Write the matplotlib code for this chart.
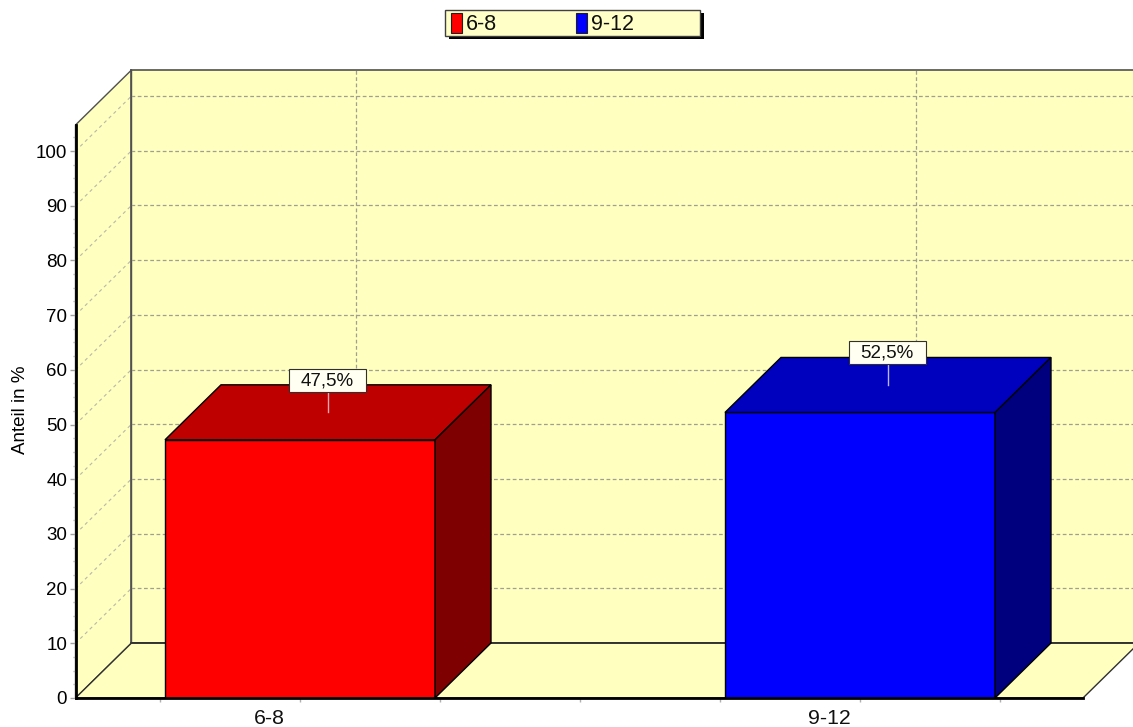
#!/usr/bin/env python3
"""Balken 3D: Anteil in % nach Klassenstufe"""

import matplotlib
matplotlib.use("Agg")
import matplotlib.pyplot as plt
from matplotlib.patches import Rectangle

# Daten
categories = ["6-8", "9-12"]
bar_heights = [47.2, 52.2]
value_labels = ["47,5%", "52,5%"]
y_ticks = list(range(0, 101, 10))
y_minor = [v * 2.5 for v in range(0, 42)]
x_ticks = [-0.25, 0, 0.25, 0.5, 0.75, 1, 1.25]
front_colors = ["#ff0000", "#0000ff"]
top_colors = ["#bf0000", "#0000bf"]
side_colors = ["#7f0000", "#00007f"]
leader_colors = ["#f0a8b0", "#b8b8f0"]

WALL = "#ffffc0"
GRID = "#a0a090"
W, H = 1133, 727
DPI = 100

plt.rcParams["font.family"] = ["Liberation Sans", "DejaVu Sans"]

fig = plt.figure(figsize=(W / DPI, H / DPI), dpi=DPI, facecolor="white")

# Vorderebene des Diagramms (Pixel -> Achsenposition)
left, right, bottom, top = 75.5, 1083, 698, 125
ax = fig.add_axes([left / W, 1 - bottom / H, (right - left) / W, (bottom - top) / H])
px_x = 560.0
px_y = 5.47
ax.set_xlim((left - 300) / px_x, (right - 300) / px_x)
ax.set_ylim(0, (bottom - top) / px_y)
ax.patch.set_visible(False)

# Tiefe des 3D-Effekts in Datenkoordinaten
dx = 56 / px_x
dy = 55 / px_y
x0, x1 = ax.get_xlim()
y_top = ax.get_ylim()[1]

# Waende und Boden
ax.fill([x0 + dx, x1 + dx, x1 + dx, x0 + dx], [dy, dy, y_top + dy, y_top + dy],
        facecolor=WALL, edgecolor="#505050", lw=1.2, clip_on=False, zorder=1)
ax.fill([x0, x0 + dx, x0 + dx, x0], [0, dy, y_top + dy, y_top],
        facecolor=WALL, edgecolor="#505050", lw=1, clip_on=False, zorder=1)
ax.fill([x0, x0 + dx, x1 + dx, x1], [0, dy, dy, 0],
        facecolor=WALL, edgecolor="#303030", lw=1, clip_on=False, zorder=1)

# Gitterlinien auf Seiten- und Rueckwand
for v in y_ticks[1:]:
    ax.plot([x0, x0 + dx], [v, v + dy], color="#b8b8a8", lw=0.8, ls=(0, (3, 3)),
            clip_on=False, zorder=2)
    ax.plot([x0 + dx, x1 + dx], [v + dy, v + dy], color=GRID, lw=0.9, ls=(0, (3, 2)),
            clip_on=False, zorder=2)
for i in range(len(categories)):
    ax.plot([i + dx, i + dx], [dy, y_top + dy], color=GRID, lw=0.9, ls=(0, (3, 2)),
            clip_on=False, zorder=2)
ax.plot([x0 + dx, x0 + dx], [dy, y_top + dy], color="#505050", lw=1.2, clip_on=False, zorder=3)
ax.plot([x0 + dx, x1 + dx], [dy, dy], color="#303030", lw=1.2, clip_on=False, zorder=3)

# Balken
bar_w = 270 / px_x
xs = list(range(len(categories)))
ax.bar(xs, bar_heights, width=bar_w, color=front_colors, edgecolor="black", lw=1, zorder=4)
for i, h in enumerate(bar_heights):
    xl, xr = i - bar_w / 2, i + bar_w / 2
    ax.fill([xl, xr, xr + dx, xl + dx], [h, h, h + dy, h + dy],
            facecolor=top_colors[i], edgecolor="black", lw=1, zorder=4)
    ax.fill([xr, xr + dx, xr + dx, xr], [0, dy, h + dy, h],
            facecolor=side_colors[i], edgecolor="black", lw=1, zorder=4)
    # Hinweislinie zum Wertelabel
    ax.plot([i + dx / 2, i + dx / 2], [h + 5.1, h + 8.8], color=leader_colors[i],
            lw=1, zorder=5)

# Achsen
for s in ["top", "right"]:
    ax.spines[s].set_visible(False)
for s in ["left", "bottom"]:
    ax.spines[s].set_linewidth(2)
    ax.spines[s].set_color("black")
    ax.spines[s].set_zorder(6)
ax.set_yticks(y_ticks)
ax.set_yticks(y_minor, minor=True)
ax.set_xticks(x_ticks)
ax.set_xticklabels([])
ax.tick_params(axis="y", which="major", length=4, width=1, color="#a0a0a0", labelsize=13.5, pad=2)
ax.tick_params(axis="y", which="minor", length=2, width=1, color="#b0b0b0")
ax.tick_params(axis="x", which="major", length=3, width=1, color="#b0b0b0")
ax.set_ylabel("Anteil in %", fontsize=13.5)
ax.yaxis.set_label_coords((29 - left) / (right - left), (698 - 410) / (bottom - top))

# Kategorienamen sitzen links von der Balkenmitte
for i, c in enumerate(categories):
    ax.annotate(c, (i, 0), xytext=(-31, -21), textcoords="offset pixels",
                ha="center", va="center", fontsize=15.3, color="#101010", annotation_clip=False)

# Legende und Wertelabels in Pixelkoordinaten
lax = fig.add_axes([0, 0, 1, 1])
lax.set_xlim(0, W)
lax.set_ylim(H, 0)
lax.axis("off")
lax.add_patch(Rectangle((449, 13), 255, 26, fc="black", ec="none", zorder=1))
lax.add_patch(Rectangle((445, 9.5), 255, 26, fc="#ffffc8", ec="#404040", lw=1, zorder=2))
for sx, col, lab in zip([451, 576], front_colors, categories):
    lax.add_patch(Rectangle((sx, 13), 11, 20, fc=col, ec="#202020", lw=0.8, zorder=3))
    lax.text(sx + 15, 24, lab, fontsize=15.5, va="center", ha="left", color="#101010", zorder=3)

for i, h in enumerate(bar_heights):
    cx, cy = ax.transData.transform((i + dx / 2, h + 11))
    cy = H - cy
    lax.add_patch(Rectangle((cx - 38.5, cy - 10), 77, 23, fc="#505050", ec="none", zorder=4))
    lax.add_patch(Rectangle((cx - 39.5, cy - 11), 77, 23, fc="#fffff2", ec="#303030", lw=0.8, zorder=5))
    lax.text(cx - 1, cy + 1, value_labels[i], fontsize=13.5, ha="center", va="center",
             color="#101010", zorder=6)

fig.savefig("out.png", dpi=DPI)
